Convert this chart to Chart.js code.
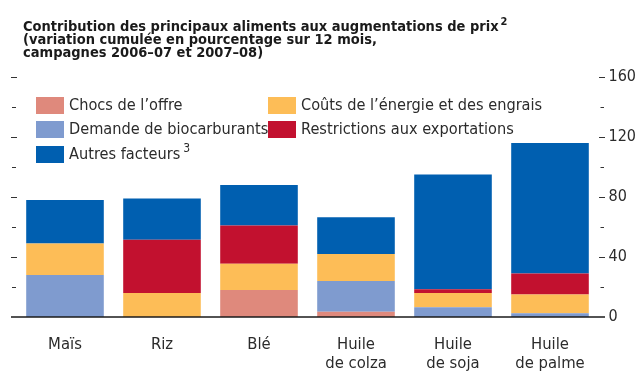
<!DOCTYPE html>
<html>
<head>
<meta charset="utf-8">
<script src="https://cdn.jsdelivr.net/npm/chart.js@4.4.1/dist/chart.umd.min.js"></script>
<style>
  html, body { margin: 0; padding: 0; background: #fff; }
  #wrap { width: 638px; height: 374px; }
</style>
</head>
<body>
<div id="wrap"><canvas id="prixChart" width="638" height="374"></canvas></div>
<script>
// produits et contributions (points de pourcentage)
const categories = ['Maïs', 'Riz', 'Blé', ['Huile', 'de colza'], ['Huile', 'de soja'], ['Huile', 'de palme']];
const chocsOffre = [0, 0, 18, 3.5, 0, 0];
const biocarburants = [28, 0, 0, 20.5, 6.5, 2.5];
const energieEngrais = [21, 16, 17.5, 18, 9.5, 12.5];
const restrictionsExport = [0, 35.5, 25.5, 0, 2.5, 14];
const autresFacteurs = [29, 27.5, 27, 24.5, 76.5, 87];
const yTicks = [0, 40, 80, 120, 160];
const yMinorStep = 20;

const titleLines = [
    'Contribution des principaux aliments aux augmentations de prix',
    '(variation cumulée en pourcentage sur 12 mois,',
    'campagnes 2006–07 et 2007–08)'
];

const FONT = "'Liberation Sans Narrow', 'DejaVu Sans Condensed', Arial, sans-serif";
const INK = '#2b2b2b';

// legend slot: [column, row], superscript note
const legendSlots = [[0, 0], [0, 1], [1, 0], [1, 1], [0, 2]];
const legendNotes = ['', '', '', '', '3'];

const titlePlugin = {
    id: 'titre',
    afterDraw(chart) {
        const ctx = chart.ctx;
        ctx.save();
        ctx.fillStyle = '#1a1a1a';
        ctx.textBaseline = 'alphabetic';
        ctx.font = 'bold 14.5px ' + FONT;
        titleLines.forEach(function (line, i) {
            ctx.fillText(line, 23, 31 + i * 13);
        });
        const w = ctx.measureText(titleLines[0]).width;
        ctx.font = 'bold 11px ' + FONT;
        ctx.fillText('2', 23 + w + 2, 25);
        ctx.restore();
    }
};

const legendPlugin = {
    id: 'legendeBoites',
    afterDraw(chart) {
        const ctx = chart.ctx;
        const colX = [36, 268];
        const rowY = [105.5, 129.5, 154.5];
        ctx.save();
        chart.data.datasets.forEach(function (ds, i) {
            const slot = legendSlots[i];
            const x = colX[slot[0]];
            const y = rowY[slot[1]];
            ctx.fillStyle = ds.backgroundColor;
            ctx.fillRect(x, y - 8.5, 28, 17);
            ctx.fillStyle = INK;
            ctx.font = '16.2px ' + FONT;
            ctx.textBaseline = 'middle';
            ctx.fillText(ds.label, x + 33, y);
            if (legendNotes[i]) {
                const w = ctx.measureText(ds.label).width;
                ctx.font = '12px ' + FONT;
                ctx.fillText(legendNotes[i], x + 33 + w + 3, y - 6);
            }
        });
        ctx.restore();
    }
};

// baseline plus tick marks on both sides
const axisPlugin = {
    id: 'reperes',
    afterDraw(chart) {
        const ctx = chart.ctx;
        const y = chart.scales.y;
        const area = chart.chartArea;
        ctx.save();
        ctx.strokeStyle = '#333';
        ctx.lineWidth = 1.2;
        for (let v = y.min + yMinorStep; v <= y.max; v += yMinorStep) {
            const py = Math.round(y.getPixelForValue(v)) + 0.5;
            const major = yTicks.includes(v);
            ctx.beginPath();
            ctx.moveTo(major ? 11 : 12, py);
            ctx.lineTo(major ? 17 : 16, py);
            ctx.moveTo(area.right + (major ? 0.5 : 2), py);
            ctx.lineTo(area.right + (major ? 6.5 : 5.5), py);
            ctx.stroke();
        }
        const py0 = y.getPixelForValue(0);
        ctx.strokeStyle = '#1a1a1a';
        ctx.lineWidth = 1.6;
        ctx.beginPath();
        ctx.moveTo(11, py0);
        ctx.lineTo(area.right + 6.5, py0);
        ctx.stroke();
        ctx.restore();
    }
};

new Chart(document.getElementById('prixChart').getContext('2d'), {
    type: 'bar',
    data: {
        labels: categories,
        datasets: [
            { label: 'Chocs de l’offre', data: chocsOffre, backgroundColor: '#df897c' },
            { label: 'Demande de biocarburants', data: biocarburants, backgroundColor: '#7f9bcf' },
            { label: 'Coûts de l’énergie et des engrais', data: energieEngrais, backgroundColor: '#fdbd57' },
            { label: 'Restrictions aux exportations', data: restrictionsExport, backgroundColor: '#c2112f' },
            { label: 'Autres facteurs', data: autresFacteurs, backgroundColor: '#005fb0' }
        ]
    },
    options: {
        responsive: false,
        animation: false,
        barPercentage: 1,
        categoryPercentage: 0.8,
        layout: { padding: { left: 16.5, top: 77, right: 0, bottom: 0 } },
        plugins: {
            legend: { display: false },
            tooltip: { enabled: false }
        },
        scales: {
            x: {
                stacked: true,
                grid: { display: false, drawTicks: false },
                border: { display: false },
                ticks: {
                    color: INK,
                    padding: 19,
                    font: { family: FONT, size: 16.5, lineHeight: 1.1 }
                },
                afterFit(scale) { scale.height = 57; }
            },
            y: {
                position: 'right',
                stacked: true,
                min: 0,
                max: 160,
                grid: { display: false, drawTicks: false },
                border: { display: false },
                afterBuildTicks(scale) {
                    scale.ticks = yTicks.map(v => ({ value: v }));
                },
                ticks: {
                    color: INK,
                    padding: 10,
                    font: { family: FONT, size: 16 }
                },
                afterFit(scale) { scale.width = 39.5; }
            }
        }
    },
    plugins: [titlePlugin, legendPlugin, axisPlugin]
});
</script>
</body>
</html>
